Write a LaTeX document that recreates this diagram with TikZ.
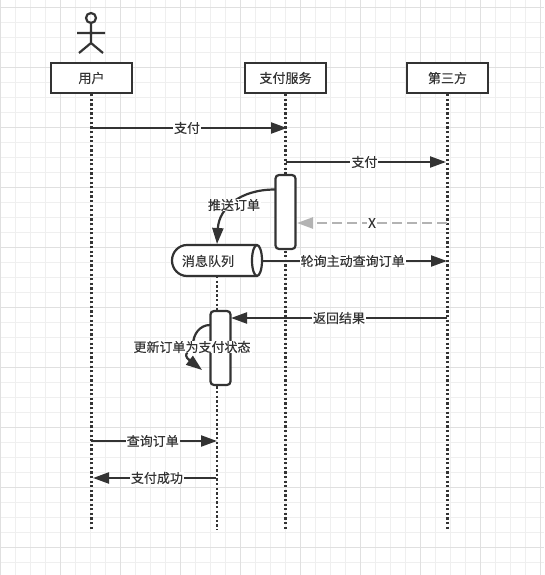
\documentclass[tikz,border=0pt]{standalone}
\usepackage{fontspec}
\setmainfont[FakeBold=0.3]{Noto Sans CJK SC}
\usetikzlibrary{arrows.meta,calc}
\definecolor{ink}{HTML}{333333}
\definecolor{gridminor}{HTML}{EFEFEF}
\definecolor{gridmajor}{HTML}{E0E0E0}
\definecolor{ghost}{HTML}{B3B3B3}
\tikzset{
  lifebox/.style={draw=ink,line width=2.2pt,fill=white,minimum width=81pt,minimum height=30pt,inner sep=0pt,font=\fontsize{13}{15}\selectfont,text=ink},
  activation/.style={draw=ink,line width=2.2pt,fill=white,rounded corners=3.5pt,minimum width=20pt,inner sep=0pt},
  lifeline/.style={draw=ink,line width=2.2pt,dash pattern=on 2.3pt off 2.3pt},
  msg/.style={draw=ink,line width=2.2pt,-{Triangle[length=16pt,width=11pt]}},
  ghostmsg/.style={draw=ghost,line width=2.4pt,dash pattern=on 10pt off 5pt,-{Triangle[length=16pt,width=11pt,fill=ghost]}},
  lbl/.style={fill=white,inner xsep=1pt,inner ysep=0pt,text=ink,font=\fontsize{13}{15}\selectfont},
}
\begin{document}
\begin{tikzpicture}[x=1pt,y=-1pt]
\useasboundingbox (0,0) rectangle (544,575);
\fill[white] (0,0) rectangle (544,575);
\foreach \x in {0,15,...,540} \draw[gridminor,line width=1pt] (\x+0.6,0) -- (\x+0.6,575);
\foreach \y in {7,22,...,572} \draw[gridminor,line width=1pt] (0,\y+0.3) -- (544,\y+0.3);
\foreach \x in {0,60,...,540} \draw[gridmajor,line width=1pt] (\x+0.6,0) -- (\x+0.6,575);
\foreach \y in {7,67,...,572} \draw[gridmajor,line width=1pt] (0,\y+0.3) -- (544,\y+0.3);

% actor
\node[draw=ink,line width=2.2pt,circle,minimum size=10pt,inner sep=0pt] (head) at (91,18) {};
\coordinate (hip) at (91,43);
\coordinate (armL) at (77,33);
\coordinate (armR) at (105,33);
\coordinate (legL) at (79,53);
\coordinate (legR) at (103,53);
\draw[ink,line width=2.2pt] (head.south) -- (hip) (armL) -- (armR) (legL) -- (hip) -- (legR);

% heads
\node[lifebox] (user) at (91.5,78) {用户};
\node[lifebox] (svc) at (285.5,78) {支付服务};
\node[lifebox] (third) at (447.5,78) {第三方};

% lifeline ends
\coordinate (userEnd) at (91.5,530);
\coordinate (svcEnd) at (285.5,530);
\coordinate (thirdEnd) at (447.5,530);
\coordinate (queueEnd) at (217,530);
\draw[lifeline] (user.south) -- (userEnd);
\draw[lifeline] (svc.south) -- (svcEnd);
\draw[lifeline] (third.south) -- (thirdEnd);

% activations and queue
\node[activation,minimum height=74pt] (act1) at (285.5,212) {};
\coordinate (queueTop) at (217,276);
\draw[lifeline] (queueTop) -- (queueEnd);
\node[activation,minimum height=74pt] (act2) at (220.5,348) {};

\draw[ink,line width=2.2pt,fill=white]
  (187,245) -- (257,245) arc[start angle=90,end angle=-90,x radius=5pt,y radius=15.5pt]
  -- (187,276) arc[start angle=270,end angle=90,x radius=15pt,y radius=15.5pt] -- cycle;
\draw[ink,line width=2.2pt] (257,245) arc[start angle=90,end angle=270,x radius=5pt,y radius=15.5pt];
\node[inner sep=0pt,text=ink,font=\fontsize{13}{15}\selectfont] (queue) at (208,261) {消息队列};
\coordinate (queueR) at (262,261);

% message coordinates
\coordinate (m1a) at (91,128); \coordinate (m1b) at (287,128);
\coordinate (m2a) at (286,162); \coordinate (m2b) at (446,162);
\coordinate (m3a) at (447,223); \coordinate (m3b) at (297,223);
\coordinate (m4b) at (447,261);
\coordinate (m5a) at (447,318); \coordinate (m5b) at (231,318);
\coordinate (m6a) at (91,441); \coordinate (m6b) at (217,441);
\coordinate (m7a) at (216,478); \coordinate (m7b) at (93,478);
\coordinate (c1a) at (275,189.5);
\coordinate (c1b) at (217,244);
\coordinate (c2a) at (210,325);
\coordinate (c2b) at (202,370);

\draw[msg] (m1a) -- node[lbl,pos=0.49] (t1) {支付} (m1b);
\draw[msg] (m2a) -- node[lbl,pos=0.49] (t2) {支付} (m2b);
\draw[ghostmsg] (m3a) -- node[lbl,pos=0.5] (t3) {X} (m3b);
\draw[msg] (queueR) -- node[lbl,pos=0.49] (t4) {轮询主动查询订单} (m4b);
\draw[msg] (m5a) -- node[lbl,pos=0.5] (t5) {返回结果} (m5b);
\draw[msg] (m6a) -- node[lbl,pos=0.49] (t6) {查询订单} (m6b);
\draw[msg] (m7a) -- node[lbl,pos=0.48] (t7) {支付成功} (m7b);

\draw[msg] (c1a) .. controls (240,189.5) and (219,208) .. (c1b);
\node[lbl] (t8) at (234,205) {推送订单};
\draw[msg] (c2a) .. controls (200,325) and (193,334) .. (193,345) .. controls (193,350) and (180,353) .. (c2b);
\node[lbl] (t9) at (192,347) {更新订单为支付状态};
\end{tikzpicture}
\end{document}
